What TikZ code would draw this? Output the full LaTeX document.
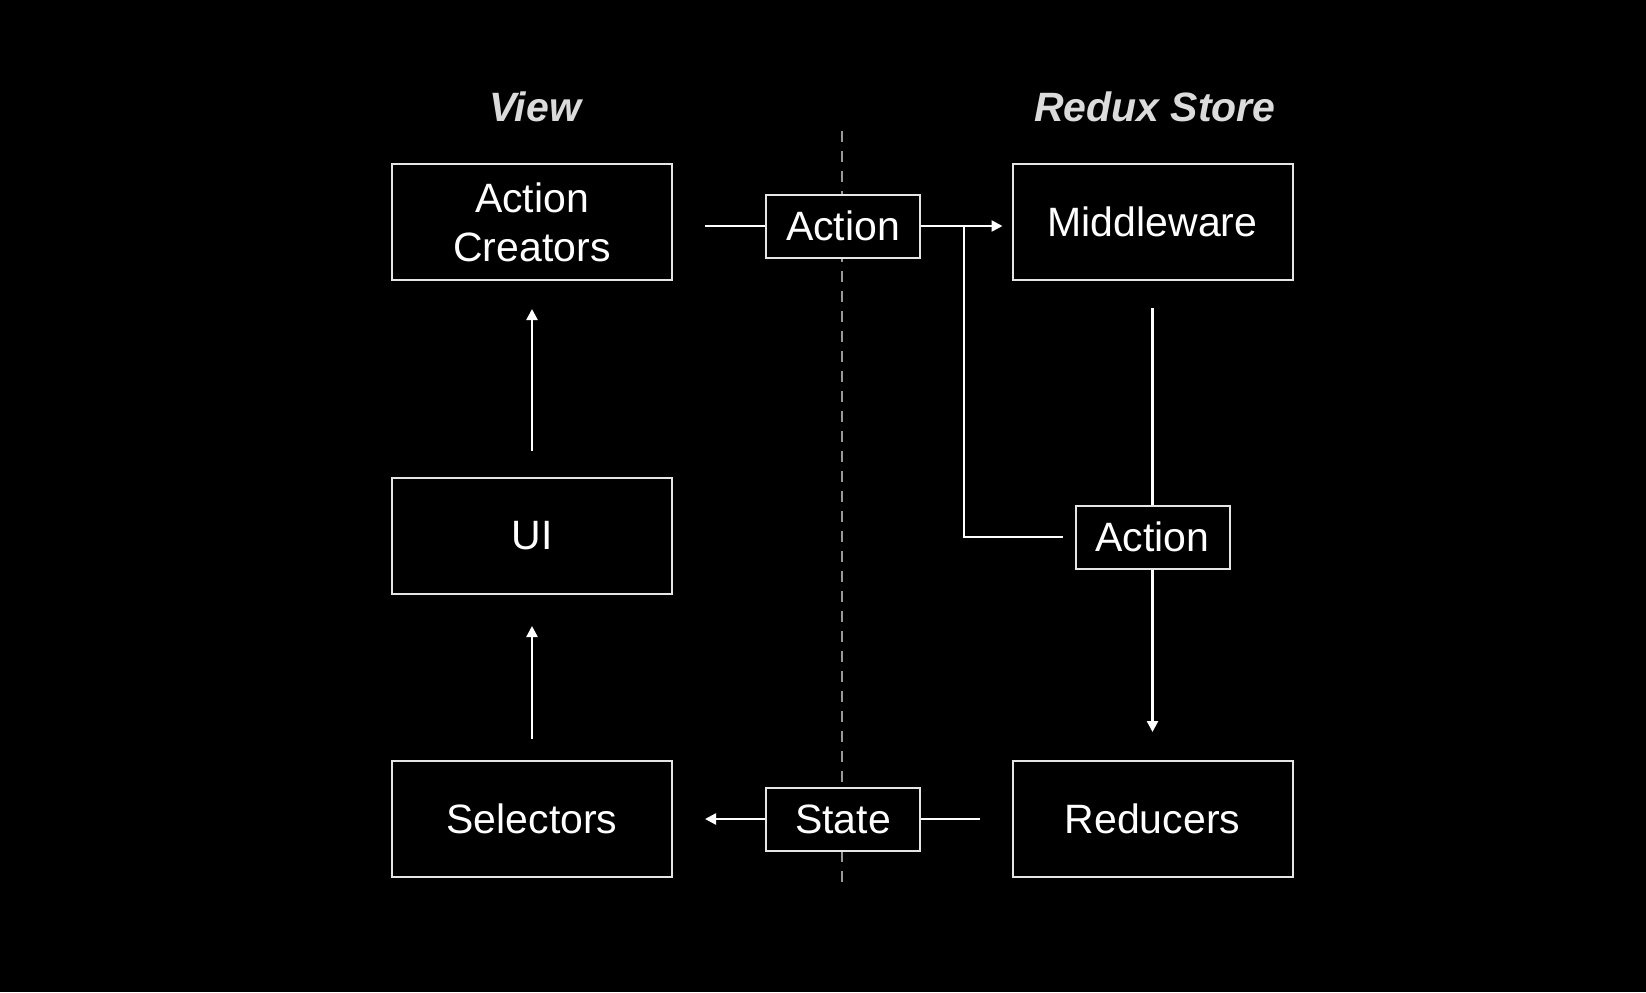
\documentclass[tikz,border=0pt]{standalone}
\usepackage{fontspec}
\setmainfont{Liberation Sans}
\usepackage{xcolor}
\usepackage{tikz}
\usetikzlibrary{arrows.meta}
\definecolor{edge}{gray}{0.9}
\definecolor{headcol}{gray}{0.86}
\tikzstyle{bigbox} = [draw=edge, fill=black, line width=1pt, rectangle,
minimum width=140pt, minimum height=58pt, text=white, align=center,
font=\fontsize{20.5}{24.5}\selectfont]
\tikzstyle{msgbox} = [bigbox, minimum width=77pt, minimum height=31.5pt]
\tikzstyle{coltitle} = [text=headcol, font=\fontsize{20.5}{24}\selectfont\bfseries\itshape]
\tikzstyle{flow} = [draw=white, line width=1.2pt]

\begin{document}
\begin{tikzpicture}[x=0.5pt, y=-0.5pt,
        >={Triangle[length=5.5pt, width=5.5pt]}]
        \fill[black] (0,0) rectangle (1646,992);
        \useasboundingbox (0,0) rectangle (1646,992);
        \draw[gray!80, line width=1pt, dash pattern=on 5.5pt off 4.5pt] (842,131) -- (842,887);

        \node[coltitle] (viewtitle) at (535,107) {View};
        \node[coltitle] (storetitle) at (1155,107) {Redux Store};

        \node[bigbox] (creators) at (532,222) {Action\\Creators};
        \node[bigbox] (ui) at (532,536) {UI};
        \node[bigbox] (selectors) at (532,819) {Selectors};
        \node[bigbox] (middleware) at (1152.5,222) {Middleware};
        \node[bigbox] (reducers) at (1152.5,819) {Reducers};

        \node[msgbox] (action) at (843,226) {Action};
        \node[msgbox] (action2) at (1152.5,537) {Action};
        \node[msgbox] (state) at (843,819) {State};
        \coordinate (split) at (964,226);

        \draw[flow, shorten >=16pt] (action.west) -- (action.west -| creators.east);
        \draw[flow, ->, shorten >=4.5pt] (action.east) -- (action.east -| middleware.west);
        \draw[flow, shorten <=6pt] (action2.west) -- (action2.west -| split) -- (split);
        \draw[flow, shorten <=13.5pt] (middleware.south) -- (action2.north);
        \draw[flow, ->, shorten >=14pt] (action2.south) -- (reducers.north);
        \draw[flow, shorten <=16pt] (reducers.west) -- (state.east);
        \draw[flow, ->, shorten >=16pt] (state.west) -- (selectors.east);
        \draw[flow, ->, shorten <=10.5pt, shorten >=15.5pt] (selectors.north) -- (ui.south);
        \draw[flow, ->, shorten <=13pt, shorten >=14pt] (ui.north) -- (creators.south);
    \end{tikzpicture}
\end{document}
